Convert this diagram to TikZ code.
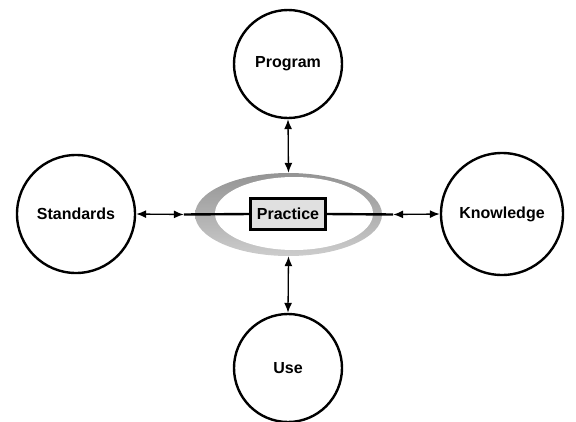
\documentclass[tikz,border=0pt]{standalone}
\usepackage{fontspec}
\setmainfont{Liberation Sans}
\usetikzlibrary{arrows.meta,shapes.geometric}
\tikzset{
  topic/.style={circle, draw=black, line width=2.4pt, fill=white, inner sep=0pt, font=\fontsize{16}{19}\selectfont\bfseries},
  core/.style={rectangle, draw=black, line width=2.2pt, fill=black!12, minimum width=75pt, minimum height=31pt, inner sep=0pt, font=\fontsize{16}{19}\selectfont\bfseries},
  link/.style={line width=1.3pt, {Latex[length=10pt,width=8pt]}-{Latex[length=10pt,width=8pt]}},
  bar/.style={line width=2.4pt}
}
\begin{document}
\begin{tikzpicture}[x=1pt,y=-1pt]
\useasboundingbox (0,0) rectangle (576,421);
\clip (0,0) rectangle (576,421);
\node[ellipse, minimum width=187pt, minimum height=83pt, inner sep=0pt, left color=black!42, right color=black!20, shading angle=0] (ell) at (288.5,214.5) {};
\node[ellipse, minimum width=158pt, minimum height=73pt, inner sep=0pt, fill=white] (ellin) at (294,213.5) {};
\node[topic, minimum size=108pt] (prog) at (288,64) {Program};
\node[topic, minimum size=108pt] (use) at (288,368) {Use};
\node[topic, minimum size=118pt] (std) at (76,214) {Standards};
\node[topic, minimum size=122pt] (know) at (502,214) {Knowledge};
\node[core] (prac) at (288,214) {Practice};
\coordinate (lend) at ([xshift=-11pt]ell.west);
\coordinate (rend) at ([xshift=11pt]ell.east);
\draw[bar] (lend) -- (prac.west);
\draw[bar] (prac.east) -- (rend);
\draw[link] (std.east) -- (lend);
\draw[link] (rend) -- (know.west);
\draw[link] (prog.south) -- (ell.north);
\draw[link] (ell.south) -- (use.north);
\end{tikzpicture}
\end{document}
